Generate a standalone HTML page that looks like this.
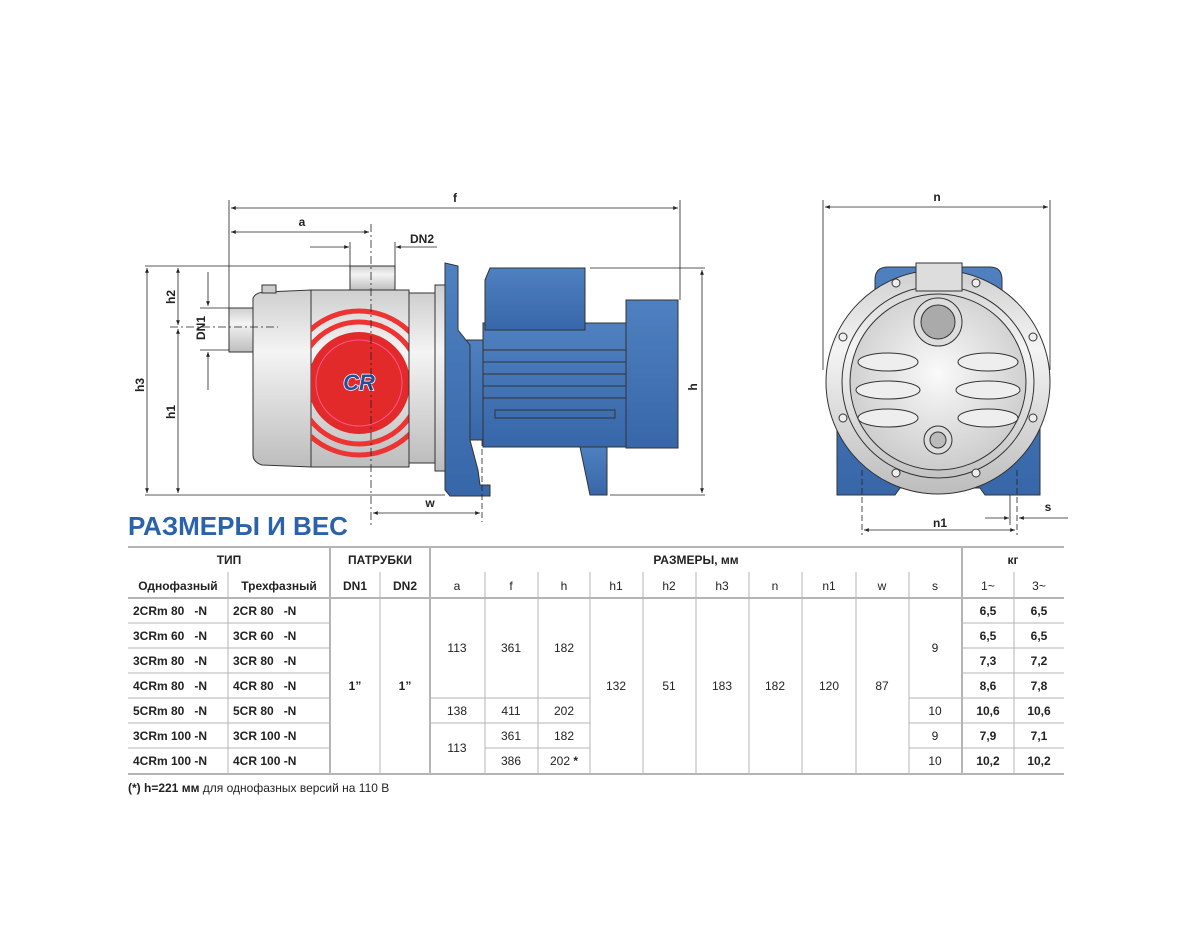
<!DOCTYPE html>
<html><head><meta charset="utf-8"><style>
html,body{margin:0;padding:0;background:#fff;}
svg{display:block;font-family:"Liberation Sans","DejaVu Sans",sans-serif;}
</style></head><body>
<svg width="1200" height="950" viewBox="0 0 1200 950" xmlns="http://www.w3.org/2000/svg">
<defs>
<marker id="ar" viewBox="0 0 10 10" refX="10" refY="5" markerWidth="8" markerHeight="6" orient="auto-start-reverse"><path d="M0,1 L10,5 L0,9 z" fill="#222"/></marker>
<linearGradient id="sil" x1="0" y1="0" x2="0" y2="1"><stop offset="0" stop-color="#cfcfcf"/><stop offset="0.35" stop-color="#f4f4f4"/><stop offset="1" stop-color="#bdbdbd"/></linearGradient>
<linearGradient id="blu" x1="0" y1="0" x2="0" y2="1"><stop offset="0" stop-color="#4f80c0"/><stop offset="1" stop-color="#3767a8"/></linearGradient>
<radialGradient id="sil2" cx="0.5" cy="0.45" r="0.6"><stop offset="0" stop-color="#fafafa"/><stop offset="1" stop-color="#c8c8c8"/></radialGradient>
<clipPath id="bodyclip"><rect x="311" y="290" width="98" height="177"/></clipPath>
</defs>

<g stroke="#333" stroke-width="1">
<rect x="229" y="308" width="24" height="44" fill="url(#sil)"/>
<path d="M253,298 Q256,292 266,292 L311,290 L311,467 L262,465 Q253,462 253,455 Z" fill="url(#sil)"/>
<rect x="262" y="285" width="14" height="8" fill="#ccc"/>
<rect x="311" y="290" width="98" height="177" fill="url(#sil)"/>
<g clip-path="url(#bodyclip)">
<circle cx="359" cy="383" r="72" fill="none" stroke="#e33" stroke-width="5"/>
<circle cx="359" cy="383" r="61" fill="none" stroke="#e33" stroke-width="5"/>
<circle cx="359" cy="383" r="51" fill="#e32a2a" stroke="none"/>
<circle cx="359" cy="383" r="43" fill="none" stroke="#f58" stroke-width="1"/>
</g>
<path d="M350,290 L350,266 L395,266 L395,290 Z" fill="url(#sil)"/>
<rect x="409" y="293" width="26" height="170" fill="url(#sil)"/>
<rect x="435" y="285" width="10" height="186" fill="url(#sil)"/>
<rect x="458" y="340" width="30" height="100" fill="url(#blu)"/>
<path d="M445,263 L458,266 L458,330 L470,345 L470,440 L478,470 L480,485 L490,485 L490,496 L450,496 L445,490 Z" fill="url(#blu)"/>
<rect x="483" y="323" width="143" height="124" fill="url(#blu)"/>
<path d="M490,268 L585,268 L585,330 L485,330 L485,280 Z" fill="url(#blu)"/>
<path d="M580,447 L607,447 L607,495 L590,495 Z" fill="url(#blu)"/>
<rect x="626" y="300" width="52" height="148" fill="url(#blu)"/>
<line x1="483" y1="350" x2="626" y2="350"/>
<line x1="483" y1="362" x2="626" y2="362"/>
<line x1="483" y1="374" x2="626" y2="374"/>
<line x1="483" y1="386" x2="626" y2="386"/>
<line x1="483" y1="398" x2="626" y2="398"/>
<rect x="495" y="410" width="120" height="8" fill="none"/>
</g>
<text x="359" y="390" font-size="22" font-weight="bold" font-style="italic" fill="#2050a0" text-anchor="middle" stroke="#fff" stroke-width="1.5" paint-order="stroke">CR</text>

<g stroke="#222" stroke-width="0.8" fill="none">
<line x1="229" y1="200" x2="229" y2="308"/>
<line x1="680" y1="200" x2="680" y2="300"/>
<line x1="231" y1="208" x2="678" y2="208" marker-start="url(#ar)" marker-end="url(#ar)"/>
<line x1="231" y1="232" x2="369" y2="232" marker-start="url(#ar)" marker-end="url(#ar)"/>
<line x1="371" y1="224" x2="371" y2="525" stroke-dasharray="8,3,2,3"/>
<line x1="310" y1="247" x2="349" y2="247" marker-end="url(#ar)"/>
<line x1="437" y1="247" x2="396" y2="247" marker-end="url(#ar)"/>
<line x1="350" y1="242" x2="350" y2="266"/><line x1="395" y1="242" x2="395" y2="266"/>
<line x1="145" y1="266" x2="350" y2="266"/>
<line x1="145" y1="495" x2="445" y2="495"/>
<line x1="147" y1="268" x2="147" y2="493" marker-start="url(#ar)" marker-end="url(#ar)"/>
<line x1="178" y1="268" x2="178" y2="325" marker-start="url(#ar)" marker-end="url(#ar)"/>
<line x1="178" y1="329" x2="178" y2="493" marker-start="url(#ar)" marker-end="url(#ar)"/>
<line x1="170" y1="327" x2="278" y2="327" stroke-dasharray="8,3,2,3"/>
<line x1="200" y1="308" x2="229" y2="308"/><line x1="200" y1="350" x2="229" y2="350"/>
<line x1="208" y1="272" x2="208" y2="306" marker-end="url(#ar)"/>
<line x1="208" y1="390" x2="208" y2="352" marker-end="url(#ar)"/>
<line x1="590" y1="268" x2="705" y2="268"/>
<line x1="610" y1="495" x2="705" y2="495"/>
<line x1="702" y1="270" x2="702" y2="493" marker-start="url(#ar)" marker-end="url(#ar)"/>
<line x1="482" y1="440" x2="482" y2="522" stroke-dasharray="6,3"/>
<line x1="373" y1="513" x2="480" y2="513" marker-start="url(#ar)" marker-end="url(#ar)"/>
</g>
<g font-size="12" font-weight="bold" fill="#222" text-anchor="middle">
<text x="455" y="202">f</text>
<text x="302" y="226">a</text>
<text x="422" y="243">DN2</text>
<text x="430" y="507">w</text>
<text transform="translate(144,385) rotate(-90)">h3</text>
<text transform="translate(175,297) rotate(-90)">h2</text>
<text transform="translate(175,412) rotate(-90)">h1</text>
<text transform="translate(205,328) rotate(-90)">DN1</text>
<text transform="translate(697,387) rotate(-90)">h</text>
<text x="937" y="201">n</text>
<text x="940" y="527">n1</text>
<text x="1048" y="511">s</text>
</g>

<g stroke="#333" stroke-width="1">
<path d="M875,280 Q875,267 888,267 L990,267 Q1002,267 1002,280 L1002,330 L1040,400 L1040,495 L985,495 L980,488 L900,488 L895,495 L837,495 L837,400 L875,330 Z" fill="url(#blu)"/>
<circle cx="938" cy="382" r="112" fill="url(#sil)"/>
<circle cx="938" cy="382" r="96" fill="none"/>
<circle cx="938" cy="382" r="88" fill="url(#sil2)"/>
<rect x="916" y="263" width="46" height="28" fill="#ddd"/>
<circle cx="938" cy="322" r="24" fill="#ddd"/>
<circle cx="938" cy="322" r="17" fill="#aaa"/>
<circle cx="938" cy="440" r="14" fill="#ddd"/>
<circle cx="938" cy="440" r="8" fill="#bbb"/>
<ellipse cx="888" cy="362" rx="30" ry="9" fill="#eee"/>
<ellipse cx="888" cy="390" rx="32" ry="9" fill="#eee"/>
<ellipse cx="888" cy="418" rx="30" ry="9" fill="#eee"/>
<ellipse cx="988" cy="362" rx="30" ry="9" fill="#eee"/>
<ellipse cx="988" cy="390" rx="32" ry="9" fill="#eee"/>
<ellipse cx="988" cy="418" rx="30" ry="9" fill="#eee"/>
<circle cx="896" cy="283" r="4" fill="#eee"/><circle cx="976" cy="283" r="4" fill="#eee"/>
<circle cx="843" cy="337" r="4" fill="#eee"/><circle cx="1033" cy="337" r="4" fill="#eee"/>
<circle cx="843" cy="418" r="4" fill="#eee"/><circle cx="1033" cy="418" r="4" fill="#eee"/>
<circle cx="896" cy="473" r="4" fill="#eee"/><circle cx="976" cy="473" r="4" fill="#eee"/>
</g>
<g stroke="#222" stroke-width="0.8" fill="none">
<line x1="823" y1="200" x2="823" y2="370"/>
<line x1="1050" y1="200" x2="1050" y2="370"/>
<line x1="825" y1="207" x2="1048" y2="207" marker-start="url(#ar)" marker-end="url(#ar)"/>
<line x1="862" y1="470" x2="862" y2="535" stroke-dasharray="6,3"/>
<line x1="1017" y1="470" x2="1017" y2="535" stroke-dasharray="6,3"/>
<line x1="864" y1="530" x2="1015" y2="530" marker-start="url(#ar)" marker-end="url(#ar)"/>
<line x1="1010" y1="495" x2="1010" y2="525"/>
<line x1="985" y1="518" x2="1009" y2="518" marker-end="url(#ar)"/>
<line x1="1068" y1="518" x2="1019" y2="518" marker-end="url(#ar)"/>
</g>

<text x="128" y="535" font-size="26" font-weight="bold" fill="#2a62ab">РАЗМЕРЫ И ВЕС</text>

<g stroke="#b5b5b5" stroke-width="1">
<line x1="128" y1="547" x2="1064" y2="547" stroke-width="2"/>
<line x1="128" y1="598" x2="1064" y2="598" stroke-width="2"/>
<line x1="128" y1="774" x2="1064" y2="774" stroke-width="2"/>
<line x1="330" y1="547" x2="330" y2="774" stroke-width="2"/>
<line x1="430" y1="547" x2="430" y2="774" stroke-width="2"/>
<line x1="962" y1="547" x2="962" y2="774" stroke-width="2"/>
<line x1="228" y1="572" x2="228" y2="774"/>
<line x1="380" y1="572" x2="380" y2="774"/>
<line x1="485" y1="572" x2="485" y2="774"/>
<line x1="538" y1="572" x2="538" y2="774"/>
<line x1="590" y1="572" x2="590" y2="774"/>
<line x1="643" y1="572" x2="643" y2="774"/>
<line x1="696" y1="572" x2="696" y2="774"/>
<line x1="749" y1="572" x2="749" y2="774"/>
<line x1="802" y1="572" x2="802" y2="774"/>
<line x1="856" y1="572" x2="856" y2="774"/>
<line x1="909" y1="572" x2="909" y2="774"/>
<line x1="1014" y1="572" x2="1014" y2="774"/>
<line x1="128" y1="623" x2="330" y2="623"/><line x1="128" y1="648" x2="330" y2="648"/>
<line x1="128" y1="673" x2="330" y2="673"/><line x1="128" y1="698" x2="330" y2="698"/>
<line x1="128" y1="723" x2="330" y2="723"/><line x1="128" y1="748" x2="330" y2="748"/>
<line x1="430" y1="698" x2="590" y2="698"/><line x1="430" y1="723" x2="590" y2="723"/>
<line x1="485" y1="748" x2="590" y2="748"/>
<line x1="909" y1="698" x2="962" y2="698"/><line x1="909" y1="723" x2="962" y2="723"/><line x1="909" y1="748" x2="962" y2="748"/>
<line x1="962" y1="623" x2="1064" y2="623"/><line x1="962" y1="648" x2="1064" y2="648"/>
<line x1="962" y1="673" x2="1064" y2="673"/><line x1="962" y1="698" x2="1064" y2="698"/>
<line x1="962" y1="723" x2="1064" y2="723"/><line x1="962" y1="748" x2="1064" y2="748"/>
</g>
<g font-size="12" fill="#222" text-anchor="middle">
<g font-weight="bold">
<text x="229" y="564">ТИП</text>
<text x="380" y="564">ПАТРУБКИ</text>
<text x="696" y="564">РАЗМЕРЫ, мм</text>
<text x="1013" y="564">кг</text>
<text x="178" y="590">Однофазный</text>
<text x="279" y="590">Трехфазный</text>
<text x="355" y="590">DN1</text>
<text x="405" y="590">DN2</text>
<text x="355" y="690">1”</text>
<text x="405" y="690">1”</text>
</g>
<text x="457" y="590">a</text><text x="511" y="590">f</text><text x="564" y="590">h</text>
<text x="616" y="590">h1</text><text x="669" y="590">h2</text><text x="722" y="590">h3</text>
<text x="775" y="590">n</text><text x="829" y="590">n1</text><text x="882" y="590">w</text>
<text x="935" y="590">s</text><text x="988" y="590">1~</text><text x="1039" y="590">3~</text>
<text x="457" y="652">113</text><text x="511" y="652">361</text><text x="564" y="652">182</text>
<text x="457" y="715">138</text><text x="511" y="715">411</text><text x="564" y="715">202</text>
<text x="457" y="752">113</text><text x="511" y="740">361</text><text x="564" y="740">182</text>
<text x="511" y="765">386</text><text x="564" y="765">202 <tspan font-weight="bold">*</tspan></text>
<text x="616" y="690">132</text><text x="669" y="690">51</text><text x="722" y="690">183</text>
<text x="775" y="690">182</text><text x="829" y="690">120</text><text x="882" y="690">87</text>
<text x="935" y="652">9</text><text x="935" y="715">10</text><text x="935" y="740">9</text><text x="935" y="765">10</text>
</g>
<g font-size="12" font-weight="bold" fill="#222">
<text x="133" y="615">2CRm 80&#160;&#160;&#160;-N</text><text x="233" y="615">2CR 80&#160;&#160;&#160;-N</text>
<text x="133" y="640">3CRm 60&#160;&#160;&#160;-N</text><text x="233" y="640">3CR 60&#160;&#160;&#160;-N</text>
<text x="133" y="665">3CRm 80&#160;&#160;&#160;-N</text><text x="233" y="665">3CR 80&#160;&#160;&#160;-N</text>
<text x="133" y="690">4CRm 80&#160;&#160;&#160;-N</text><text x="233" y="690">4CR 80&#160;&#160;&#160;-N</text>
<text x="133" y="715">5CRm 80&#160;&#160;&#160;-N</text><text x="233" y="715">5CR 80&#160;&#160;&#160;-N</text>
<text x="133" y="740">3CRm 100 -N</text><text x="233" y="740">3CR 100 -N</text>
<text x="133" y="765">4CRm 100 -N</text><text x="233" y="765">4CR 100 -N</text>
</g>
<g font-size="12" font-weight="bold" fill="#222" text-anchor="middle">
<text x="988" y="615">6,5</text><text x="1039" y="615">6,5</text>
<text x="988" y="640">6,5</text><text x="1039" y="640">6,5</text>
<text x="988" y="665">7,3</text><text x="1039" y="665">7,2</text>
<text x="988" y="690">8,6</text><text x="1039" y="690">7,8</text>
<text x="988" y="715">10,6</text><text x="1039" y="715">10,6</text>
<text x="988" y="740">7,9</text><text x="1039" y="740">7,1</text>
<text x="988" y="765">10,2</text><text x="1039" y="765">10,2</text>
</g>
<text x="128" y="792" font-size="12" fill="#222"><tspan font-weight="bold">(*) h=221 мм</tspan> для однофазных версий на 110 В</text>
</svg>
</body></html>
